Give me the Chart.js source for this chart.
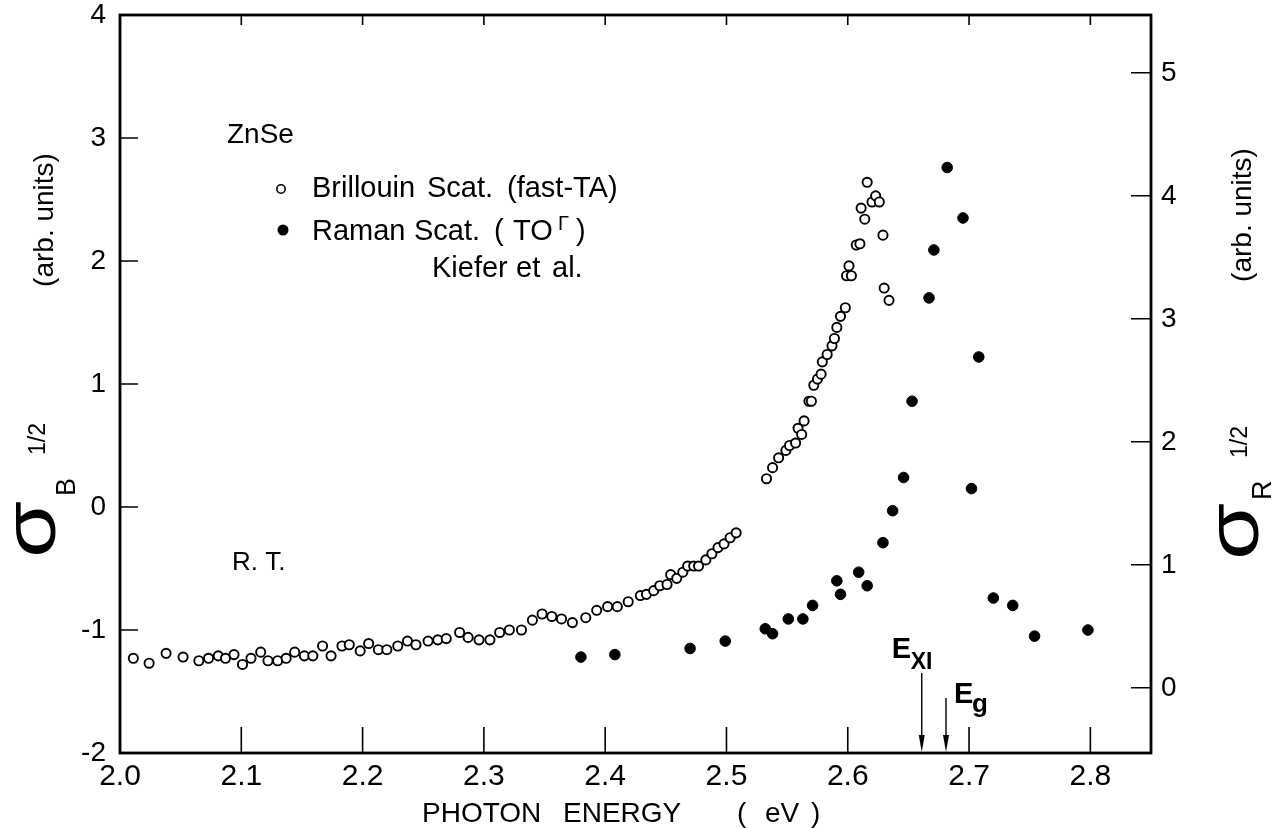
<!DOCTYPE html>
<html>
<head>
<meta charset="utf-8">
<script src="https://cdn.jsdelivr.net/npm/chart.js@4.4.0/dist/chart.umd.min.js"></script>
<style>
  html, body { margin: 0; padding: 0; background: #fff; }
  #wrap { width: 1273px; height: 828px; }
</style>
</head>
<body>
<div id="wrap"><canvas id="myChart" width="1273" height="828"></canvas></div>
<script>
// Brillouin scattering (fast-TA), open circles, left axis
const brillouinE = [2.011,2.024,2.038,2.052,2.065,2.073,2.081,2.087,2.094,2.101,
  2.108,2.116,2.122,2.130,2.137,2.144,2.152,2.159,2.167,2.174,
  2.183,2.189,2.198,2.205,2.213,2.220,2.229,2.237,2.244,2.254,
  2.262,2.269,2.280,2.287,2.296,2.305,2.313,2.321,2.331,2.340,
  2.348,2.356,2.364,2.373,2.384,2.393,2.402,2.410,2.419,2.429,
  2.434,2.440,2.445,2.451,2.454,2.459,2.464,2.468,2.473,2.477,
  2.483,2.488,2.493,2.498,2.503,2.508,2.533,2.538,2.543,2.549,
  2.552,2.557,2.559,2.562,2.564,2.568,2.570,2.572,2.575,2.578,
  2.579,2.583,2.587,2.589,2.591,2.594,2.598,2.599,2.601,2.603,
  2.607,2.610,2.611,2.614,2.616,2.620,2.623,2.626,2.629,2.630,
  2.634];
const brillouinS = [-1.23,-1.27,-1.19,-1.22,-1.25,-1.23,-1.21,-1.23,-1.20,-1.28,
  -1.23,-1.18,-1.25,-1.25,-1.23,-1.18,-1.21,-1.21,-1.13,-1.21,
  -1.13,-1.12,-1.17,-1.11,-1.16,-1.16,-1.13,-1.09,-1.12,-1.09,
  -1.08,-1.07,-1.02,-1.06,-1.08,-1.08,-1.02,-1.00,-1.00,-0.92,
  -0.87,-0.89,-0.91,-0.94,-0.90,-0.84,-0.81,-0.81,-0.77,-0.72,
  -0.71,-0.68,-0.64,-0.63,-0.55,-0.58,-0.53,-0.48,-0.48,-0.48,
  -0.43,-0.38,-0.33,-0.30,-0.25,-0.21,0.23,0.32,0.40,0.46,
  0.50,0.52,0.64,0.59,0.70,0.86,0.86,0.99,1.04,1.08,
  1.18,1.24,1.31,1.37,1.46,1.55,1.62,1.88,1.96,1.88,
  2.13,2.14,2.43,2.34,2.64,2.48,2.53,2.48,2.21,1.78,
  1.68];

// Raman scattering (TO), filled circles, right axis
const ramanE = [2.380,2.408,2.470,2.499,2.532,2.538,2.551,2.563,2.571,2.591,
  2.594,2.609,2.616,2.629,2.637,2.646,2.653,2.667,2.671,2.682,
  2.695,2.702,2.708,2.720,2.736,2.754,2.798];
const ramanS = [0.25,0.27,0.32,0.38,0.48,0.44,0.56,0.56,0.67,0.87,
  0.76,0.94,0.83,1.18,1.44,1.71,2.33,3.17,3.56,4.23,
  3.82,1.62,2.69,0.73,0.67,0.42,0.47];

// tick labels
const xTicks = [2.0, 2.1, 2.2, 2.3, 2.4, 2.5, 2.6, 2.7, 2.8];
const leftTicks = [-2, -1, 0, 1, 2, 3, 4];
const rightTicks = [0, 1, 2, 3, 4, 5];

// E_XI and E_g arrow positions (eV)
const markerLabels = ['XI', 'g'];
const markerE = [2.661, 2.681];

const FONT = '"Liberation Sans", Arial, sans-serif';

function toPoints(xs, ys) {
    return xs.map((v, i) => ({ x: v, y: ys[i] }));
}

// text turned to read bottom-to-top; stretch widens it along the text direction
function rotText(ctx, s, x, y, font, align, stretch) {
    ctx.save();
    ctx.translate(x, y);
    ctx.rotate(-Math.PI / 2);
    if (stretch) ctx.scale(stretch, 1);
    ctx.font = font;
    ctx.textAlign = align || 'left';
    ctx.textBaseline = 'alphabetic';
    ctx.fillText(s, 0, 0);
    ctx.restore();
}

function text(ctx, s, x, y, font) {
    ctx.font = font;
    ctx.textAlign = 'left';
    ctx.textBaseline = 'alphabetic';
    ctx.fillText(s, x, y);
}

// keep the plot box fixed: no extra room for the end labels
function noPad(s) {
    s.paddingTop = 0;
    s.paddingBottom = 0;
    s.paddingLeft = 0;
    s.paddingRight = 0;
}

// frame, inward ticks and all the annotation text
const annotate = {
    id: 'annotate',
    beforeDatasetsDraw(chart) {
        const { ctx, chartArea: a, scales } = chart;
        const x = scales.x, y = scales.y, y2 = scales.y2;
        ctx.save();
        ctx.strokeStyle = '#000';
        ctx.fillStyle = '#000';
        ctx.lineWidth = 2.8;
        ctx.strokeRect(a.left, a.top, a.right - a.left, a.bottom - a.top);

        ctx.lineWidth = 1.6;
        ctx.beginPath();
        xTicks.forEach(v => {
            const px = x.getPixelForValue(v);
            ctx.moveTo(px, a.bottom); ctx.lineTo(px, a.bottom - 26);
            ctx.moveTo(px, a.top); ctx.lineTo(px, a.top + 10);
        });
        leftTicks.forEach(v => {
            const py = y.getPixelForValue(v);
            ctx.moveTo(a.left, py); ctx.lineTo(a.left + 18, py);
        });
        rightTicks.forEach(v => {
            const py = y2.getPixelForValue(v);
            ctx.moveTo(a.right, py); ctx.lineTo(a.right - 20, py);
        });
        ctx.stroke();

        // arrows for E_XI and E_g
        const arrowLen = [80, 55];
        markerE.forEach((e, i) => {
            const px = x.getPixelForValue(e);
            ctx.lineWidth = 1.4;
            ctx.beginPath();
            ctx.moveTo(px, a.bottom - arrowLen[i]);
            ctx.lineTo(px, a.bottom - 12);
            ctx.stroke();
            ctx.beginPath();
            ctx.moveTo(px - 3, a.bottom - 18);
            ctx.lineTo(px + 3, a.bottom - 18);
            ctx.lineTo(px, a.bottom - 1);
            ctx.closePath();
            ctx.fill();
        });
        const pxi = x.getPixelForValue(markerE[0]);
        const pg = x.getPixelForValue(markerE[1]);
        text(ctx, 'E', pxi - 30, 658, 'bold 29px ' + FONT);
        text(ctx, markerLabels[0], pxi - 11, 669, 'bold 23px ' + FONT);
        text(ctx, 'E', pg + 8, 703, 'bold 29px ' + FONT);
        text(ctx, markerLabels[1], pg + 26, 712, 'bold 26px ' + FONT);

        // legend and labels
        const f29 = '29px ' + FONT;
        text(ctx, 'ZnSe', 227, 143, '28px ' + FONT);
        ctx.lineWidth = 1.6;
        ctx.beginPath();
        ctx.arc(281, 189, 4.2, 0, Math.PI * 2);
        ctx.stroke();
        text(ctx, 'Brillouin', 312, 197, f29);
        text(ctx, 'Scat.', 427, 197, f29);
        text(ctx, '(fast-TA)', 507, 197, f29);
        ctx.beginPath();
        ctx.arc(283, 230, 5.5, 0, Math.PI * 2);
        ctx.fill();
        text(ctx, 'Raman', 312, 240, f29);
        text(ctx, 'Scat.', 414, 240, f29);
        text(ctx, '(', 494, 240, f29);
        text(ctx, 'TO', 513, 240, f29);
        text(ctx, '\u0393', 558, 230, '20px ' + FONT);
        text(ctx, ')', 576, 240, f29);
        text(ctx, 'Kiefer', 432, 277, f29);
        text(ctx, 'et', 516, 277, f29);
        text(ctx, 'al.', 552, 277, f29);
        text(ctx, 'R. T.', 232, 570, '26px ' + FONT);

        // x axis title
        const f28 = '28px ' + FONT;
        text(ctx, 'PHOTON', 422, 822, f28);
        text(ctx, 'ENERGY', 563, 822, f28);
        text(ctx, '(', 737, 822, f28);
        text(ctx, 'eV', 765, 822, f28);
        text(ctx, ')', 811, 822, f28);

        // y axis titles
        rotText(ctx, '(arb. units)', 53, 220, '28px ' + FONT, 'center');
        rotText(ctx, '(arb. units)', 1251, 215, '28px ' + FONT, 'center');

        const sig = '74px ' + FONT;
        rotText(ctx, '\u03C3', 55, 558, sig, 'left', 1.25);
        rotText(ctx, 'B', 75, 496, '27px ' + FONT);
        rotText(ctx, '1/2', 45, 455, '23px ' + FONT);
        rotText(ctx, '\u03C3', 1258, 560, sig, 'left', 1.25);
        rotText(ctx, 'R', 1271, 500, '27px ' + FONT);
        rotText(ctx, '1/2', 1247, 458, '23px ' + FONT);
        ctx.restore();
    }
};

var ChartCanvas = document.getElementById('myChart');

var myChart = new Chart(ChartCanvas, {
    type: 'scatter',
    data: {
        datasets: [{
            label: 'Brillouin Scat. (fast-TA)',
            data: toPoints(brillouinE, brillouinS),
            yAxisID: 'y',
            pointStyle: 'circle',
            pointRadius: 4.6,
            pointBackgroundColor: '#fff',
            pointBorderColor: '#000',
            pointBorderWidth: 1.9
        }, {
            label: 'Raman Scat. (TO)',
            data: toPoints(ramanE, ramanS),
            yAxisID: 'y2',
            pointStyle: 'circle',
            pointRadius: 5.3,
            pointBackgroundColor: '#000',
            pointBorderColor: '#000',
            pointBorderWidth: 1
        }]
    },
    options: {
        responsive: false,
        animation: false,
        devicePixelRatio: 1,
        layout: { padding: { top: 15, left: 0, right: 0, bottom: 0 } },
        plugins: {
            legend: { display: false },
            tooltip: { enabled: false }
        },
        scales: {
            x: {
                type: 'linear',
                min: 2.0,
                max: 2.85,
                afterBuildTicks: s => { s.ticks = xTicks.map(v => ({ value: v })); },
                afterFit: s => { s.height = 75; noPad(s); },
                grid: { display: false, drawTicks: false },
                border: { display: false },
                ticks: {
                    color: '#000',
                    font: { family: FONT, size: 30 },
                    padding: 6,
                    maxRotation: 0,
                    autoSkip: false,
                    callback: v => Number(v).toFixed(1)
                }
            },
            y: {
                position: 'left',
                min: -2,
                max: 4,
                afterBuildTicks: s => { s.ticks = leftTicks.map(v => ({ value: v })); },
                afterFit: s => { s.width = 120; noPad(s); },
                grid: { display: false, drawTicks: false },
                border: { display: false },
                ticks: {
                    color: '#000',
                    font: { family: FONT, size: 28 },
                    padding: 14,
                    callback: v => String(v)
                }
            },
            y2: {
                position: 'right',
                min: -0.53,
                max: 5.47,
                afterBuildTicks: s => { s.ticks = rightTicks.map(v => ({ value: v })); },
                afterFit: s => { s.width = 122; noPad(s); },
                grid: { display: false, drawTicks: false },
                border: { display: false },
                ticks: {
                    color: '#000',
                    font: { family: FONT, size: 28 },
                    padding: 10,
                    callback: v => String(v)
                }
            }
        }
    },
    plugins: [annotate]
});
</script>
</body>
</html>
